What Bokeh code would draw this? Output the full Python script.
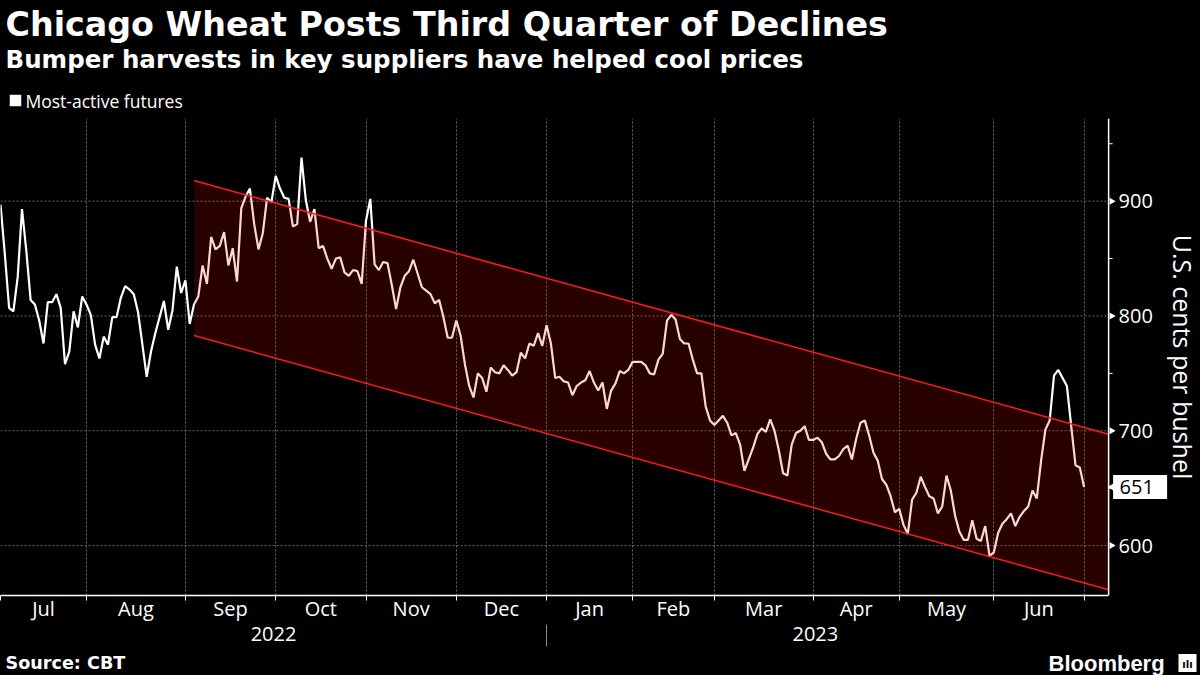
import math
import pandas as pd
from bokeh.plotting import figure
from bokeh.layouts import column
from bokeh.models import FixedTicker, Range1d, LinearAxis
from bokeh.core.properties import value
from bokeh.embed import file_html
from bokeh.resources import INLINE

# ---------------- data ----------------
start_date = "2022-06-30"
end_date = "2023-06-30"
holidays = ["2022-07-04", "2022-09-05", "2022-11-24", "2022-12-26", "2023-01-02",
            "2023-01-16", "2023-02-20", "2023-05-29", "2023-06-19"]

prices = [
    897, 854, 807, 804, 834, 893, 857, 814, 810, 796,
    776, 812, 812, 819, 807, 758, 769, 804, 790, 817,
    810, 801, 775, 763, 782, 775, 799, 799, 816, 826,
    823, 819, 803, 775, 747, 769, 785, 799, 813, 788,
    805, 843, 820, 831, 793, 810, 817, 844, 828, 869,
    858, 861, 873, 844, 859, 830, 894, 904, 911, 880,
    858, 872, 903, 899, 922, 911, 903, 902, 878, 880,
    938, 901, 882, 893, 859, 861, 850, 841, 850, 851,
    838, 835, 840, 839, 828, 883, 902, 845, 840, 847,
    846, 827, 806, 825, 835, 839, 849, 837, 825, 822,
    819, 811, 814, 799, 781, 781, 796, 783, 758, 739,
    729, 750, 746, 734, 755, 751, 750, 757, 753, 748,
    751, 768, 763, 776, 774, 785, 774, 792, 776, 746,
    747, 743, 742, 731, 739, 742, 744, 752, 742, 735,
    742, 719, 735, 741, 752, 750, 753, 760, 760, 760,
    757, 750, 749, 762, 767, 796, 801, 797, 780, 776,
    776, 762, 750, 750, 721, 709, 705, 709, 713, 707,
    696, 698, 688, 665, 675, 685, 697, 702, 699, 710,
    700, 683, 663, 661, 688, 698, 700, 704, 692, 692,
    694, 690, 680, 675, 675, 678, 684, 687, 675, 693,
    707, 709, 696, 681, 674, 658, 653, 643, 629, 632,
    618, 610, 640, 646, 660, 651, 643, 641, 628, 634,
    661, 648, 626, 612, 605, 605, 622, 606, 604, 617,
    591, 594, 611, 619, 623, 628, 617, 625, 630, 634,
    648, 641, 674, 701, 709, 748, 753, 746, 739, 704,
    670, 668, 651,
]

month_labels = ["Jul", "Aug", "Sep", "Oct", "Nov", "Dec",
                "Jan", "Feb", "Mar", "Apr", "May", "Jun"]
year_labels = ["2022", "2023"]

channel_start = "2022-09-02"
channel_upper = [918, 697]
channel_lower = [783, 561.5]

y_ticks = [600, 700, 800, 900]
y_minor_ticks = [650, 750, 850, 950]

title_text = "Chicago Wheat Posts Third Quarter of Declines"
subtitle_text = "Bumper harvests in key suppliers have helped cool prices"
legend_text = "Most-active futures"
source_text = "Source: CBT"
brand_text = "Bloomberg"
y_title = "U.S. cents per bushel"

# ---------------- derived positions ----------------
dates = pd.bdate_range(start_date, end_date)
dates = dates[~dates.isin(pd.to_datetime(holidays))]
idx = list(range(len(dates)))
ser = pd.Series(idx, index=dates)
month_ends = [int(v) for v in ser.groupby([dates.year, dates.month]).max().tolist()]
month_mids = [(a + b) / 2 for a, b in zip(month_ends[:-1], month_ends[1:])]
year_split = month_ends[6]
year_mids = [(month_ends[0] + year_split) / 2, (year_split + month_ends[-1]) / 2]
ch_x0 = int(ser[pd.Timestamp(channel_start)])

W = 1200
PX_PER_DAY = 4.3
axis_x = idx[-1] + 5.7            # where the value axis sits
x_range = Range1d(0, W / PX_PER_DAY)
y_range = Range1d(556.5, 972)

FONT = "Open Sans"
BOLD = "DejaVu Sans"
GRID = "#6a6a6a"
BLACK_CSS = {"background-color": "black"}

HEAD_H, MAIN_FRAME_H, MAIN_BOTTOM = 118, 477, 55
MAIN_H = MAIN_FRAME_H + MAIN_BOTTOM
FOOT_H = 675 - HEAD_H - MAIN_H


def base_fig(height, xr, yr, **kw):
    f = figure(width=W, height=height, output_backend="svg", toolbar_location=None,
               x_range=xr, y_range=yr, background_fill_color="black",
               border_fill_color="black", outline_line_color=None,
               min_border_left=0, min_border_right=0, min_border_top=0,
               min_border_bottom=0, styles=BLACK_CSS, **kw)
    return f


# ---------------- header ----------------
head = base_fig(HEAD_H, Range1d(0, W), Range1d(HEAD_H, 0),
                x_axis_location=None, y_axis_location=None)
head.grid.visible = False
head.text(x=[5], y=[24], text=[title_text], text_color="white",
          text_font=value(BOLD), text_font_style="bold", text_font_size="33.3px",
          text_baseline="middle")
head.text(x=[5], y=[59], text=[subtitle_text], text_color="white",
          text_font=value(BOLD), text_font_style="bold", text_font_size="24.5px",
          text_baseline="middle")
head.scatter(x=[15], y=[100], marker="square", size=11.5, fill_color="white",
             line_color=None)
head.text(x=[25], y=[100], text=[legend_text], text_color="white",
          text_font=value(FONT), text_font_size="17.5px", text_baseline="middle")

# ---------------- main plot ----------------
p = base_fig(MAIN_H, x_range, y_range, y_axis_location=None)
p.min_border_bottom = MAIN_BOTTOM

p.xgrid.ticker = FixedTicker(ticks=month_ends)
p.xgrid.grid_line_color = GRID
p.xgrid.grid_line_dash = "2 2"
p.ygrid.visible = False
# horizontal grid lines, stopping at the value axis
p.segment(x0=[0] * len(y_ticks), x1=[axis_x] * len(y_ticks), y0=y_ticks, y1=y_ticks,
          line_color=GRID, line_dash="2 2", line_width=1)

# price line (under the channel fill)
p.line(idx, prices, line_color="white", line_width=2.2)

# channel
cx = [ch_x0, axis_x, axis_x, ch_x0]
cy = [channel_upper[0], channel_upper[1], channel_lower[1], channel_lower[0]]
p.patch(cx, cy, fill_color="#ff0000", fill_alpha=0.16, line_color=None)
p.line([ch_x0, axis_x], channel_upper, line_color="#ff1a1a", line_width=1.5)
p.line([ch_x0, axis_x], channel_lower, line_color="#ff1a1a", line_width=1.5)

# x axis: months
xa = p.xaxis[0]
xa.bounds = (0, axis_x)
xa.ticker = FixedTicker(ticks=month_mids, minor_ticks=month_ends)
xa.major_label_overrides = {m: lab for m, lab in zip(month_mids, month_labels)}
xa.axis_line_color = "white"
xa.axis_line_width = 1.5
xa.major_tick_line_color = None
xa.major_tick_out = 0
xa.major_tick_in = 0
xa.minor_tick_line_color = "white"
xa.minor_tick_out = 5
xa.minor_tick_in = 0
xa.major_label_text_color = "white"
xa.major_label_text_font = FONT
xa.major_label_text_font_size = "20px"
xa.major_label_standoff = -6

# x axis: years
yx = LinearAxis(ticker=FixedTicker(ticks=year_mids, minor_ticks=[year_split]))
yx.major_label_overrides = {m: lab for m, lab in zip(year_mids, year_labels)}
yx.axis_line_color = None
yx.major_tick_line_color = None
yx.major_tick_out = 0
yx.major_tick_in = 0
yx.minor_tick_line_color = "#8a8a8a"
yx.minor_tick_out = 22
yx.minor_tick_in = 0
yx.major_label_text_color = "white"
yx.major_label_text_font = FONT
yx.major_label_text_font_size = "20px"
yx.major_label_standoff = -20
p.add_layout(yx, "below")

# value axis on the right (drawn through the plot's scales)
px = 1 / PX_PER_DAY
p.segment(x0=[axis_x], x1=[axis_x], y0=[y_range.start], y1=[y_range.end],
          line_color="white", line_width=1.5)
p.scatter(x=[axis_x + 3 * px] * len(y_ticks), y=y_ticks, marker="triangle",
          angle=-math.pi / 2, size=7, fill_color="white", line_color=None)
p.segment(x0=[axis_x] * len(y_minor_ticks), x1=[axis_x + 4 * px] * len(y_minor_ticks),
          y0=y_minor_ticks, y1=y_minor_ticks, line_color="white", line_width=1)
p.text(x=[axis_x] * len(y_ticks), y=y_ticks, text=[str(t) for t in y_ticks],
       x_offset=10, text_color="white", text_font=value(FONT), text_font_size="20px",
       text_align="left", text_baseline="middle")
p.text(x=[axis_x], y=[(y_range.start + y_range.end) / 2], text=[y_title],
       x_offset=74, angle=-math.pi / 2, text_color="white", text_font=value(FONT),
       text_font_size="25px", text_align="center", text_baseline="middle")

# last value callout
last_v = prices[-1]
p.rect(x=[axis_x + 31.5 * px], y=[last_v], width=54, height=24,
       width_units="screen", height_units="screen", fill_color="white", line_color=None)
p.scatter(x=[axis_x + 4 * px], y=[last_v], marker="triangle", angle=math.pi / 2,
          size=9, fill_color="white", line_color=None)
p.text(x=[axis_x], y=[last_v], text=[str(last_v)], x_offset=11, text_color="black",
       text_font=value(FONT), text_font_size="20px", text_align="left",
       text_baseline="middle")

# ---------------- footer ----------------
foot = base_fig(FOOT_H, x_range, Range1d(FOOT_H, 0),
                x_axis_location=None, y_axis_location=None)
foot.grid.visible = False
foot.text(x=[0], y=[12.5], x_offset=5, text=[source_text], text_color="white",
          text_font=value(BOLD), text_font_style="bold", text_font_size="17.6px",
          text_baseline="middle")
foot.text(x=[0], y=[12.5], x_offset=1048, text=[brand_text], text_color="white",
          text_font=value("Liberation Sans"), text_font_style="bold",
          text_font_size="22px", text_baseline="middle")
foot.scatter(x=[x_range.end * 1187 / W], y=[12.5], marker="square", size=18,
             fill_color="white", line_color=None)
foot.text(x=[x_range.end * 1187 / W], y=[13.5], text=["\u0131l\u0131"], text_color="black",
          text_font=value(BOLD), text_font_style="bold", text_font_size="10px",
          text_align="center", text_baseline="middle")

layout = column(head, p, foot, spacing=0, styles=BLACK_CSS)
open("out.html", "w").write(file_html(layout, INLINE))
